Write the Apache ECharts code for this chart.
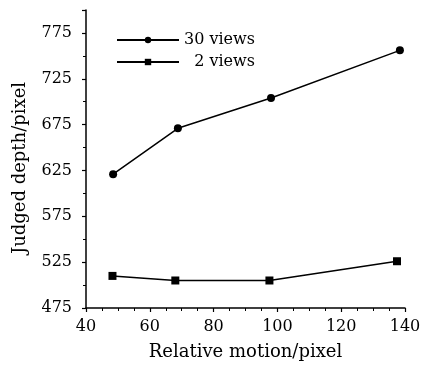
<!DOCTYPE html>
<html>
<head>
<meta charset="utf-8">
<script src="https://cdn.jsdelivr.net/npm/echarts@6/dist/echarts.min.js"></script>
<style>html,body{margin:0;padding:0;background:#fff}#c{width:425px;height:370px}</style>
</head>
<body>
<div id="c"></div>
<script>
const motion30 = [48.5, 68.8, 98, 138.4];
const depth30 = [621, 671, 704, 756];
const motion2 = [48.3, 68, 97.5, 137.5];
const depth2 = [510, 505, 505, 526];
const seriesNames = ['30 views', '\u20072 views'];
const xLabel = 'Relative motion/pixel';
const yLabel = 'Judged depth/pixel';

const font = 'DejaVu Serif';
const chart = echarts.init(document.getElementById('c'));
chart.setOption({
  animation: false,
  backgroundColor: '#fff',
  grid: {left: 86, right: 20, top: 10, bottom: 62},
  legend: {
    left: 111, top: 27, orient: 'vertical', itemWidth: 62, itemHeight: 8, itemGap: 6,
    textStyle: {fontFamily: font, fontSize: 16, color: '#000'},
    data: seriesNames
  },
  xAxis: {
    type: 'value', min: 40, max: 140, interval: 20,
    name: xLabel, nameLocation: 'middle', nameGap: 35,
    nameTextStyle: {fontFamily: font, fontSize: 18, color: '#000'},
    axisLine: {lineStyle: {color: '#000', width: 1.5}},
    axisTick: {length: 4, lineStyle: {color: '#000', width: 1.2}},
    minorTick: {show: true, splitNumber: 4, length: 3, lineStyle: {color: '#000'}},
    axisLabel: {fontFamily: font, fontSize: 16, color: '#000', margin: 11},
    splitLine: {show: false}
  },
  yAxis: {
    type: 'value', min: 475, max: 800, interval: 50,
    name: yLabel, nameLocation: 'middle', nameGap: 57,
    nameTextStyle: {fontFamily: font, fontSize: 18, color: '#000', padding: [0, 18, 0, 0]},
    axisLine: {show: true, lineStyle: {color: '#000', width: 1.5}},
    axisTick: {show: true, length: 4, lineStyle: {color: '#000', width: 1.2}},
    minorTick: {show: true, splitNumber: 2, length: 3, lineStyle: {color: '#000'}},
    axisLabel: {fontFamily: font, fontSize: 16, color: '#000', margin: 14, showMaxLabel: false},
    splitLine: {show: false}
  },
  series: [
    {
      name: seriesNames[0], type: 'line', symbol: 'circle', symbolSize: 8,
      data: motion30.map((x, i) => [x, depth30[i]]),
      lineStyle: {color: '#000', width: 1.5}, itemStyle: {color: '#000'}
    },
    {
      name: seriesNames[1], type: 'line', symbol: 'rect', symbolSize: 8,
      data: motion2.map((x, i) => [x, depth2[i]]),
      lineStyle: {color: '#000', width: 1.5}, itemStyle: {color: '#000'}
    }
  ]
});
</script>
</body>
</html>
